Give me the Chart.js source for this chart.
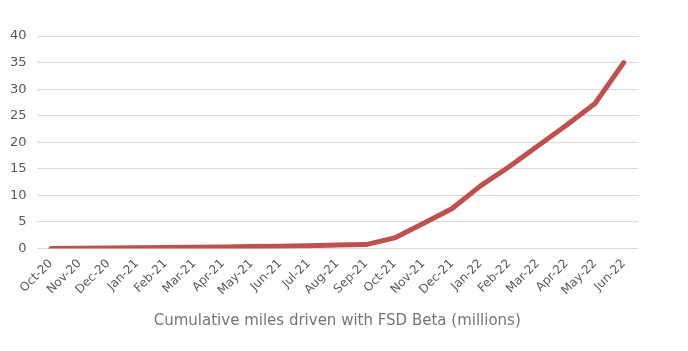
<!DOCTYPE html>
<html>
<head>
<meta charset="utf-8">
<script src="https://cdn.jsdelivr.net/npm/chart.js@4"></script>
<style>
  html, body { margin: 0; padding: 0; background: #ffffff; }
  #wrap { width: 688px; height: 351px; position: relative; }
</style>
</head>
<body>
<div id="wrap"><canvas id="c" width="688" height="351"></canvas></div>
<script>
const categories = ["Oct-20","Nov-20","Dec-20","Jan-21","Feb-21","Mar-21","Apr-21","May-21","Jun-21","Jul-21","Aug-21","Sep-21","Oct-21","Nov-21","Dec-21","Jan-22","Feb-22","Mar-22","Apr-22","May-22","Jun-22"];
const milesMillions = [0, 0.05, 0.1, 0.15, 0.2, 0.25, 0.3, 0.4, 0.45, 0.55, 0.65, 0.75, 2.0, 4.7, 7.5, 11.8, 15.4, 19.3, 23.2, 27.3, 35.0];
const yTicks = [0, 5, 10, 15, 20, 25, 30, 35, 40];
const axisTitle = "Cumulative miles driven with FSD Beta (millions)";

const FONT = "'DejaVu Sans', sans-serif";
new Chart(document.getElementById('c'), {
  type: 'line',
  data: {
    labels: categories,
    datasets: [{
      data: milesMillions,
      borderColor: '#c0504d',
      backgroundColor: '#c0504d',
      borderWidth: 5,
      pointRadius: 0,
      tension: 0,
      borderCapStyle: 'round',
      borderJoinStyle: 'round'
    }]
  },
  options: {
    responsive: false,
    animation: false,
    layout: { padding: { left: 0, right: 50, top: 36, bottom: 17 } },
    plugins: { legend: { display: false }, tooltip: { enabled: false } },
    scales: {
      x: {
        offset: true,
        grid: { display: false },
        border: { display: false },
        ticks: {
          color: '#595959',
          font: { family: FONT, size: 12 },
          minRotation: 45, maxRotation: 45,
          autoSkip: false,
          padding: 0
        },
        title: {
          display: true,
          text: axisTitle,
          color: '#767676',
          font: { family: FONT, size: 15 },
          padding: { top: 14 }
        }
      },
      y: {
        min: 0, max: 40,
        afterBuildTicks: (axis) => { axis.ticks = yTicks.map(v => ({ value: v })); },
        grid: { color: '#d9d9d9', drawTicks: false, lineWidth: 1 },
        border: { display: false },
        ticks: {
          color: '#595959',
          font: { family: FONT, size: 13 },
          padding: 10
        }
      }
    }
  }
});
</script>
</body>
</html>
